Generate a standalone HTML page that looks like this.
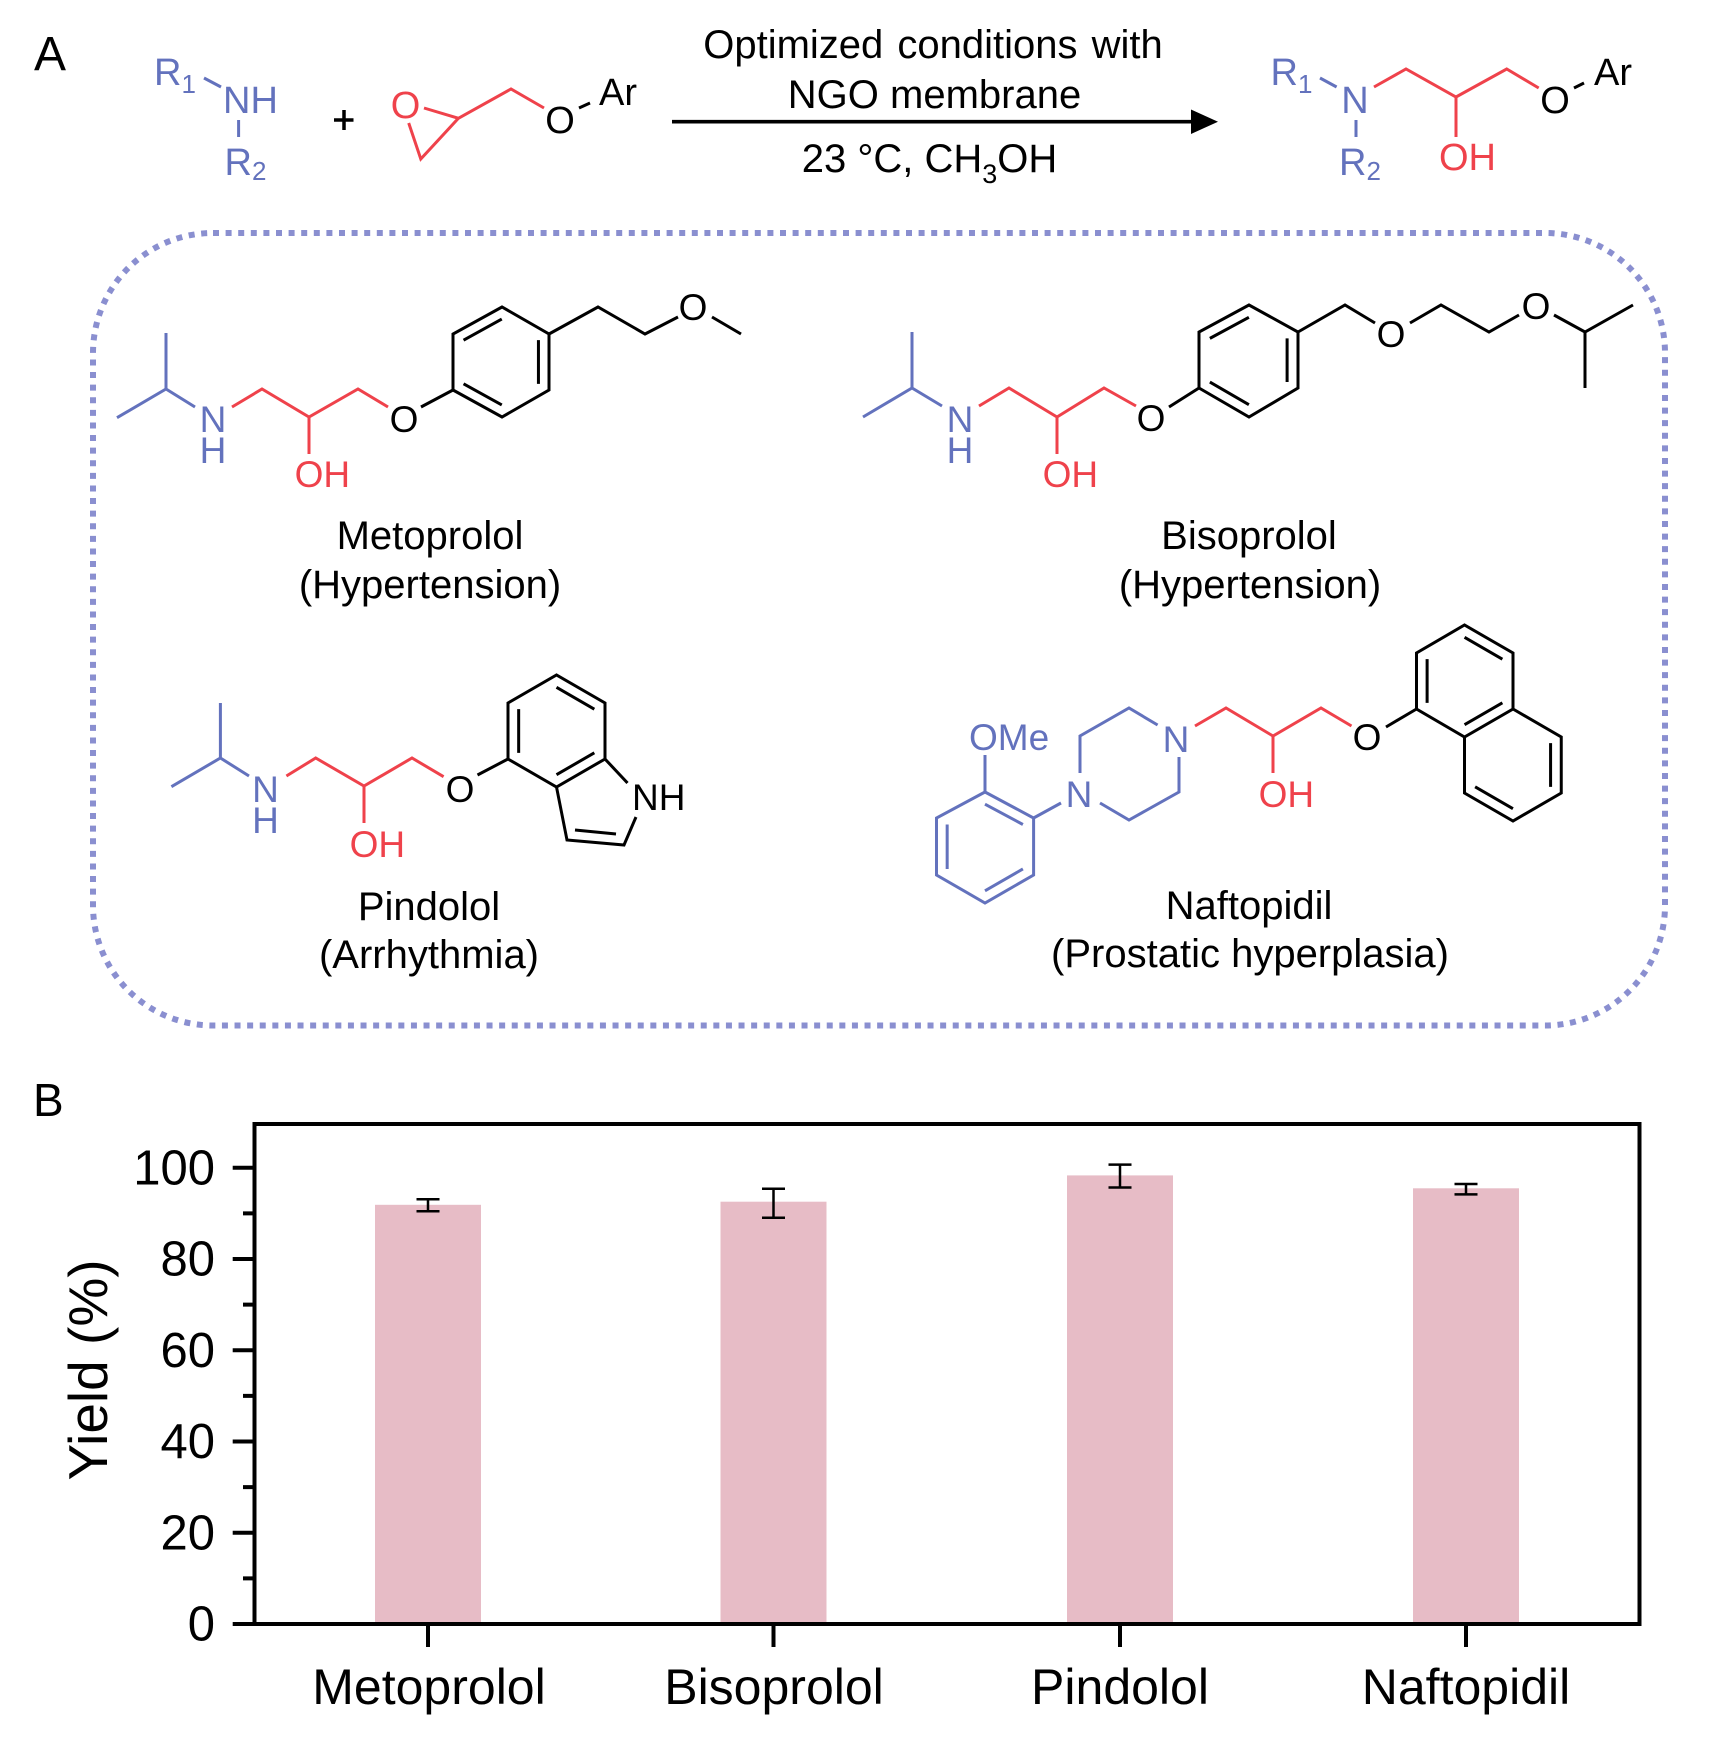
<!DOCTYPE html>
<html><head><meta charset="utf-8"><style>
html,body{margin:0;padding:0;background:#fff;}
svg{display:block;}
text{font-family:"Liberation Sans",Arial,sans-serif;}
</style></head><body>
<svg width="1732" height="1738" viewBox="0 0 1732 1738" xmlns="http://www.w3.org/2000/svg">
<rect width="1732" height="1738" fill="#fff"/>

<!-- Panel labels -->
<text x="34" y="70" font-size="48" fill="#000">A</text>
<text x="33" y="1116" font-size="46" fill="#000">B</text>

<!-- ===== Reaction ===== -->
<g font-size="38" fill="#6372bd">
  <text x="154" y="85">R<tspan font-size="26" dy="8">1</tspan></text>
  <text x="223" y="113">NH</text>
  <text x="224.5" y="175">R<tspan font-size="26" dy="5">2</tspan></text>
</g>
<g stroke="#6372bd" stroke-width="3" fill="none">
  <path d="M204,78 L221,87 M238.6,120 L238.6,137"/>
</g>
<!-- plus -->
<g stroke="#000" stroke-width="3.5">
  <path d="M334,120 L353.5,120 M344,110 L344,130"/>
</g>
<!-- epoxide -->
<text x="405.5" y="118" font-size="38" fill="#ef424b" text-anchor="middle">O</text>
<g stroke="#ef424b" stroke-width="3" fill="none" stroke-linejoin="miter">
  <path d="M408.7,123 L420.8,159 L458.4,118.3 L424,108 M458.4,118.3 L511,89 L544,108"/>
</g>
<text x="560" y="133" font-size="38" fill="#000" text-anchor="middle">O</text>
<path d="M579,108 L590,103" stroke="#000" stroke-width="3"/>
<text x="599" y="105" font-size="38" fill="#000">Ar</text>

<!-- conditions -->
<g font-size="40" fill="#000" text-anchor="middle">
  <text x="933" y="58" word-spacing="3">Optimized conditions with</text>
  <text x="934.5" y="108">NGO membrane</text>
  <text x="929.5" y="172">23 °C, CH<tspan font-size="27" dy="11">3</tspan><tspan dy="-11">OH</tspan></text>
</g>
<path d="M672,121.7 L1196,121.7" stroke="#000" stroke-width="3.6"/>
<polygon points="1191,109.5 1218,121.7 1191,134" fill="#000"/>

<!-- product -->
<g font-size="38" fill="#6372bd">
  <text x="1270.5" y="85">R<tspan font-size="26" dy="8">1</tspan></text>
  <text x="1355" y="113" text-anchor="middle">N</text>
  <text x="1339" y="175">R<tspan font-size="26" dy="5">2</tspan></text>
</g>
<path d="M1320,78 L1336.6,87 M1356,120 L1356,137" stroke="#6372bd" stroke-width="3" fill="none"/>
<path d="M1374,87 L1406,69 L1456,97 L1506.7,69 L1538.7,88 M1456,97 L1456,137" stroke="#ef424b" stroke-width="3" fill="none"/>
<text x="1439" y="170" font-size="38" fill="#ef424b">OH</text>
<text x="1555" y="113" font-size="38" fill="#000" text-anchor="middle">O</text>
<path d="M1574,88 L1584,83" stroke="#000" stroke-width="3"/>
<text x="1594" y="85" font-size="38" fill="#000">Ar</text>

<!-- dotted box -->
<rect x="93" y="233" width="1572" height="792.5" rx="120" ry="120" fill="none" stroke="#8a8fd0" stroke-width="6" stroke-dasharray="6 6.6"/>

<!-- ===== Metoprolol ===== -->
<g stroke-width="3" fill="none">
  <path d="M117,417.7 L166,389 L195,407 M166,389 L166,333" stroke="#6372bd"/>
  <path d="M232,407 L262,389 L309,417 L358,389 L388,407 M309,417 L309,454" stroke="#ef424b"/>
  <g stroke="#000">
    <path d="M421,407 L453,390"/>
    <path d="M453,390 L502,417 L549,390 L549,334 L502,307 L453,334 Z"/>
    <path d="M549,334 L598,307 L645,334 L678,317 M712,317 L741,334"/>
  </g>
  <g stroke="#000" stroke-width="3.85" transform="translate(501 362) scale(0.78) translate(-501 -362)">
    <path d="M453,334 L502,307 M549,390 L549,334 M453,390 L502,417"/>
  </g>
</g>
<g font-size="37">
  <text x="213" y="432" fill="#6372bd" text-anchor="middle">N</text>
  <text x="213" y="463" fill="#6372bd" text-anchor="middle">H</text>
  <text x="294.6" y="487" fill="#ef424b">OH</text>
  <text x="404" y="432" fill="#000" text-anchor="middle">O</text>
  <text x="693" y="320" fill="#000" text-anchor="middle">O</text>
</g>
<g font-size="40" fill="#000" text-anchor="middle">
  <text x="430" y="549">Metoprolol</text>
  <text x="430" y="598">(Hypertension)</text>
</g>

<!-- ===== Bisoprolol ===== -->
<g stroke-width="3" fill="none">
  <path d="M863,417 L912,388 L942,406 M912,388 L912,332" stroke="#6372bd"/>
  <path d="M979,406 L1009,388 L1057,417 L1104,388 L1136,406 M1057,417 L1057,454" stroke="#ef424b"/>
  <g stroke="#000">
    <path d="M1169,407 L1199,388"/>
    <path d="M1199,388 L1249,417 L1298,388 L1298,332 L1249,305 L1199,332 Z"/>
    <path d="M1298,332 L1345,305 L1375,323 M1410,323 L1441,305 L1489,332 L1519,315 M1554,315 L1585,332 L1633,305 M1585,332 L1585,388"/>
  </g>
  <g stroke="#000" stroke-width="3.85" transform="translate(1248.5 361) scale(0.78) translate(-1248.5 -361)">
    <path d="M1199,332 L1249,305 M1298,388 L1298,332 M1199,388 L1249,417"/>
  </g>
</g>
<g font-size="37">
  <text x="960" y="432" fill="#6372bd" text-anchor="middle">N</text>
  <text x="960" y="463" fill="#6372bd" text-anchor="middle">H</text>
  <text x="1042.6" y="487" fill="#ef424b">OH</text>
  <text x="1151" y="431" fill="#000" text-anchor="middle">O</text>
  <text x="1391" y="347" fill="#000" text-anchor="middle">O</text>
  <text x="1536" y="319" fill="#000" text-anchor="middle">O</text>
</g>
<g font-size="40" fill="#000" text-anchor="middle">
  <text x="1249" y="549">Bisoprolol</text>
  <text x="1250" y="598">(Hypertension)</text>
</g>

<!-- ===== Pindolol ===== -->
<g stroke-width="3" fill="none">
  <path d="M171.4,786.7 L220.4,758 L249,776 M220.4,758 L220.4,703" stroke="#6372bd"/>
  <path d="M286.4,776 L315.7,758 L364,786 L412,758 L443.6,776.7 M364,786 L364,823" stroke="#ef424b"/>
  <g stroke="#000">
    <path d="M477.5,775 L508,759"/>
    <path d="M508,759 L508,703 L556.5,675 L605,703 L605,759 L556.5,787 Z"/>
    <path d="M605,759 L627.5,783 M636,817 L624,845 L567,840 L556.5,787"/>
    <path d="M575,830 L616,834"/>
  </g>
  <g stroke="#000" stroke-width="3.85" transform="translate(556.5 731) scale(0.78) translate(-556.5 -731)">
    <path d="M508,759 L508,703 M556.5,675 L605,703 M556.5,787 L605,759"/>
  </g>
</g>
<g font-size="37">
  <text x="265.5" y="802" fill="#6372bd" text-anchor="middle">N</text>
  <text x="265.5" y="833" fill="#6372bd" text-anchor="middle">H</text>
  <text x="349.6" y="857" fill="#ef424b">OH</text>
  <text x="460" y="802" fill="#000" text-anchor="middle">O</text>
  <text x="632" y="810" fill="#000">NH</text>
</g>
<g font-size="40" fill="#000" text-anchor="middle">
  <text x="429" y="920">Pindolol</text>
  <text x="429" y="968">(Arrhythmia)</text>
</g>

<!-- ===== Naftopidil ===== -->
<g stroke-width="3" fill="none">
  <g stroke="#6372bd">
    <path d="M985,755 L985,792"/>
    <path d="M985,792 L1033.6,818 L1033.6,875 L985,903 L936.5,875 L936.5,818 Z"/>
    <path d="M1033.6,818 L1061,803"/>
    <path d="M1080,773 L1080,736 L1129,708 L1157.6,725 M1179,757 L1179,792 L1129,820 L1100,803"/>
  </g>
  <g stroke="#6372bd" stroke-width="3.85" transform="translate(985 847.5) scale(0.78) translate(-985 -847.5)">
    <path d="M985,792 L1033.6,818 M936.5,875 L936.5,818 M1033.6,875 L985,903"/>
  </g>
  <path d="M1195,726 L1226,708 L1273,736 L1321,708 L1351.5,726 M1273,736 L1273,773" stroke="#ef424b"/>
  <g stroke="#000">
    <path d="M1386,727 L1416.5,709"/>
    <path d="M1416.5,709 L1416.5,653 L1464.5,625 L1513,653 L1513,709 L1464.5,737 Z"/>
    <path d="M1513,709 L1561.25,737 L1561.25,793 L1513,821 L1464.5,793 L1464.5,737"/>
  </g>
  <g stroke="#000" stroke-width="3.85" transform="translate(1464.75 681) scale(0.78) translate(-1464.75 -681)">
    <path d="M1416.5,709 L1416.5,653 M1464.5,625 L1513,653 M1464.5,737 L1513,709"/>
  </g>
  <g stroke="#000" stroke-width="3.85" transform="translate(1512.75 765) scale(0.78) translate(-1512.75 -765)">
    <path d="M1561.25,737 L1561.25,793 M1513,821 L1464.5,793"/>
  </g>
</g>
<g font-size="37">
  <text x="969" y="750" fill="#6372bd">OMe</text>
  <text x="1079" y="807" fill="#6372bd" text-anchor="middle">N</text>
  <text x="1176" y="752" fill="#6372bd" text-anchor="middle">N</text>
  <text x="1258.6" y="807" fill="#ef424b">OH</text>
  <text x="1367" y="750" fill="#000" text-anchor="middle">O</text>
</g>
<g font-size="40" fill="#000" text-anchor="middle">
  <text x="1249" y="919">Naftopidil</text>
  <text x="1250" y="967">(Prostatic hyperplasia)</text>
</g>

<!-- ===== Chart ===== -->
<g fill="#e7bcc6">
  <rect x="375" y="1204.8" width="106" height="419.2"/>
  <rect x="720.5" y="1201.7" width="106" height="422.3"/>
  <rect x="1067" y="1175.4" width="106" height="448.6"/>
  <rect x="1413" y="1188.3" width="106" height="435.7"/>
</g>
<g stroke="#000" stroke-width="2.5" fill="none">
  <path d="M428,1199.2 L428,1211.3 M416.5,1199.2 L439.5,1199.2 M416.5,1211.3 L439.5,1211.3"/>
  <path d="M773.5,1188.8 L773.5,1217.7 M762,1188.8 L785,1188.8 M762,1217.7 L785,1217.7"/>
  <path d="M1120,1164.6 L1120,1187.5 M1108.5,1164.6 L1131.5,1164.6 M1108.5,1187.5 L1131.5,1187.5"/>
  <path d="M1466,1184 L1466,1194.4 M1454.5,1184 L1477.5,1184 M1454.5,1194.4 L1477.5,1194.4"/>
</g>
<rect x="254.5" y="1124" width="1385" height="500" fill="none" stroke="#000" stroke-width="4"/>
<g stroke="#000" stroke-width="4">
  <path d="M232.7,1624 L254.5,1624 M232.7,1532.75 L254.5,1532.75 M232.7,1441.5 L254.5,1441.5 M232.7,1350.25 L254.5,1350.25 M232.7,1259 L254.5,1259 M232.7,1167.75 L254.5,1167.75"/>
  <path d="M243,1578.4 L254.5,1578.4 M243,1487.1 L254.5,1487.1 M243,1395.9 L254.5,1395.9 M243,1304.6 L254.5,1304.6 M243,1213.4 L254.5,1213.4"/>
  <path d="M428,1624 L428,1647 M773.5,1624 L773.5,1647 M1120,1624 L1120,1647 M1466,1624 L1466,1647"/>
</g>
<g font-size="49" fill="#000" text-anchor="end">
  <text x="215" y="1640.5">0</text>
  <text x="215" y="1549.25">20</text>
  <text x="215" y="1458">40</text>
  <text x="215" y="1366.75">60</text>
  <text x="215" y="1275.5">80</text>
  <text x="215" y="1184.25">100</text>
</g>
<text transform="translate(107 1370) rotate(-90)" font-size="55" fill="#000" text-anchor="middle">Yield (%)</text>
<g font-size="50" fill="#000" text-anchor="middle">
  <text x="429" y="1704">Metoprolol</text>
  <text x="774" y="1704">Bisoprolol</text>
  <text x="1120" y="1704">Pindolol</text>
  <text x="1466" y="1704">Naftopidil</text>
</g>
</svg>
</body></html>
